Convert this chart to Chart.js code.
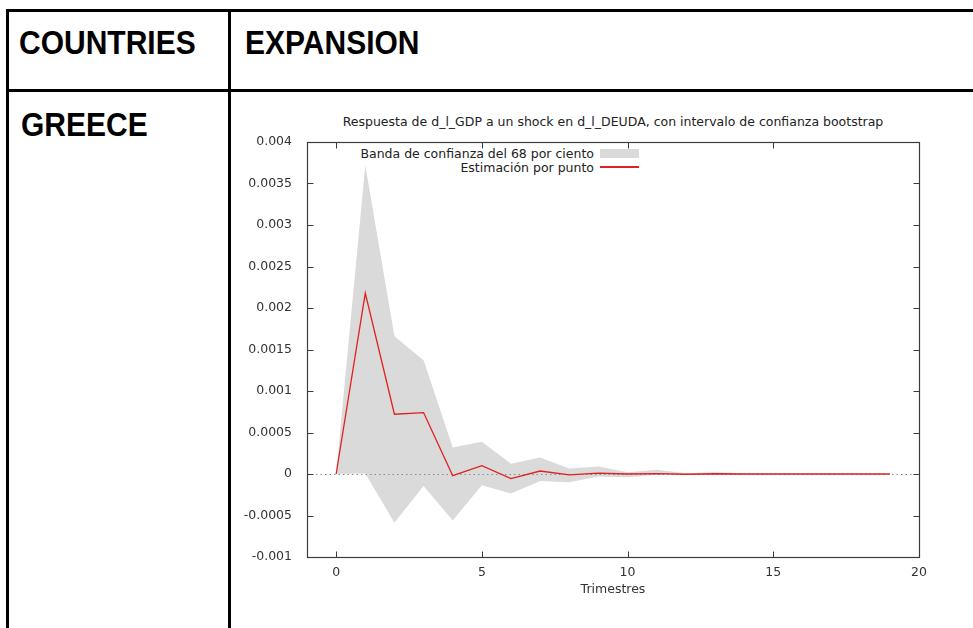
<!DOCTYPE html>
<html>
<head>
<meta charset="utf-8">
<script src="https://cdn.jsdelivr.net/npm/chart.js"></script>
<style>
    html, body { margin: 0; padding: 0; background: #fff; }
    body { width: 973px; height: 628px; position: relative; overflow: hidden; }
    .line { position: absolute; background: #000; }
    .cell { position: absolute; font-family: "Liberation Sans", Arial, sans-serif; font-weight: bold;
            font-size: 30px; line-height: 30px; color: #000; white-space: nowrap;
            transform: scaleY(1.08); transform-origin: 0 100%; }
    .small { position: absolute; font-family: "DejaVu Sans", sans-serif; font-size: 12.5px;
             line-height: 14px; color: #222; white-space: nowrap; }
    #chartBox { position: absolute; left: 235px; top: 95px; width: 738px; height: 533px; }
    #legendLine { position: absolute; left: 600px; top: 166px; width: 39px; height: 0;
                  border-top: 2px solid #e02020; }
</style>
</head>
<body>

<!-- table lines -->
<div class="line" style="left:6px; top:9px; width:967px; height:3px;"></div>
<div class="line" style="left:6px; top:9px; width:3px; height:619px;"></div>
<div class="line" style="left:228px; top:9px; width:3px; height:619px;"></div>
<div class="line" style="left:6px; top:89px; width:967px; height:3px;"></div>

<div class="cell" style="left:19px; top:29px;">COUNTRIES</div>
<div class="cell" style="left:245px; top:29px;">EXPANSION</div>
<div class="cell" style="left:21px; top:111px;">GREECE</div>

<!-- chart title + legend -->
<div class="small" id="chartTitle" style="left:313px; top:115px; width:600px; text-align:center;">Respuesta de d_l_GDP a un shock en d_l_DEUDA, con intervalo de confianza bootstrap</div>
<div class="small" style="left:280px; top:147px; width:314px; text-align:right;">Banda de confianza del 68 por ciento</div>
<div class="small" style="left:280px; top:161px; width:314px; text-align:right;">Estimación por punto</div>
<div style="position:absolute; left:600px; top:149px; width:39px; height:9px; background:#dadada;"></div>
<div id="legendLine"></div>

<div id="chartBox"><canvas id="irfChart"></canvas></div>

<script>
    // -----------------------------
    // data
    // -----------------------------
    const trimestres = [0, 1, 2, 3, 4, 5, 6, 7, 8, 9, 10, 11, 12, 13, 14, 15, 16, 17, 18, 19];
    const estimacion = [0, 0.00218, 0.00072, 0.00074, -0.00002, 0.0001, -0.000055, 0.000036, -0.00001, 0.00001,
                        0, 0.000005, -0.000003, 0.000003, 0, 0, 0, 0, 0, 0];
    const bandaSup = [0, 0.00372, 0.00166, 0.00137, 0.00032, 0.00039, 0.000125, 0.0002, 0.000065, 0.00009,
                      0.00002, 0.00005, 0.00001, 0.00002, 0.00001, 0.00001, 0.000005, 0.000005, 0.000003, 0.000002];
    const bandaInf = [0, 0.000005, -0.000586, -0.000145, -0.00056, -0.000136, -0.000236, -0.000084, -0.0001, -0.00003,
                      -0.00004, -0.00001, -0.00001, -0.000005, -0.000005, -0.000003, -0.000002, -0.000002, -0.000001, -0.000001];
    const yTicksMin = -0.001, yTicksMax = 0.004, yStep = 0.0005;
    const xTicksMin = -1, xTicksMax = 20, xStep = 5;

    const toXY = (vals) => trimestres.map((t, i) => ({ x: t, y: vals[i] }));

    const tickFont = { family: "DejaVu Sans", size: 12.5 };
    const frameColor = "#3c3c3c";

    // gnuplot style: inward ticks, box frame, dotted zero axis
    const gnuplotFrame = {
        id: "gnuplotFrame",
        beforeDatasetDraw: function (chart, args) {
            if (args.index !== 2) return;
            const ctx = chart.ctx;
            const area = chart.chartArea;
            const y0 = Math.round(chart.scales.y.getPixelForValue(0)) + 0.5;
            ctx.save();
            ctx.strokeStyle = "#8a8a8a";
            ctx.lineWidth = 1;
            ctx.setLineDash([1.5, 3]);
            ctx.beginPath();
            ctx.moveTo(area.left, y0);
            ctx.lineTo(area.right, y0);
            ctx.stroke();
            ctx.restore();
        },
        afterDraw: function (chart) {
            const ctx = chart.ctx;
            const a = chart.chartArea;
            const L = Math.round(a.left) + 0.5, R = Math.round(a.right) + 0.5;
            const T = Math.round(a.top) + 0.5, B = Math.round(a.bottom) + 0.5;
            ctx.save();
            ctx.strokeStyle = frameColor;
            ctx.lineWidth = 1;
            ctx.beginPath();
            chart.scales.x.ticks.forEach((t) => {
                const px = Math.round(chart.scales.x.getPixelForValue(t.value)) + 0.5;
                ctx.moveTo(px, B); ctx.lineTo(px, B - 6);
                ctx.moveTo(px, T); ctx.lineTo(px, T + 6);
            });
            chart.scales.y.ticks.forEach((t) => {
                const py = Math.round(chart.scales.y.getPixelForValue(t.value)) + 0.5;
                ctx.moveTo(L, py); ctx.lineTo(L + 6, py);
                ctx.moveTo(R, py); ctx.lineTo(R - 6, py);
            });
            ctx.stroke();
            ctx.lineWidth = 1.2;
            ctx.strokeRect(L, T, R - L, B - T);
            ctx.restore();
        }
    };

    new Chart(document.getElementById("irfChart"), {
        type: "line",
        data: {
            datasets: [{
                label: "Banda de confianza del 68 por ciento",
                data: toXY(bandaSup),
                borderWidth: 0,
                borderColor: "rgba(0,0,0,0)",
                backgroundColor: "#dadada",
                pointRadius: 0,
                fill: "+1",
                order: 2
            }, {
                label: "inf",
                data: toXY(bandaInf),
                borderWidth: 0,
                borderColor: "rgba(0,0,0,0)",
                pointRadius: 0,
                fill: false,
                order: 2
            }, {
                label: "Estimación por punto",
                data: toXY(estimacion),
                borderColor: "#e02020",
                borderWidth: 1.3,
                pointRadius: 0,
                fill: false,
                order: 0
            }]
        },
        options: {
            responsive: true,
            maintainAspectRatio: false,
            animation: false,
            layout: { padding: { left: 0, top: 47, right: 54, bottom: 0 } },
            plugins: {
                legend: { display: false },
                title: { display: false },
                tooltip: { enabled: false }
            },
            scales: {
                x: {
                    type: "linear",
                    min: xTicksMin,
                    max: xTicksMax,
                    ticks: { stepSize: xStep, font: tickFont, color: "#333", padding: 0, maxRotation: 0 },
                    afterBuildTicks: function (scale) {
                        scale.ticks = scale.ticks.filter((t) => t.value >= 0);
                    },
                    afterFit: function (scale) { scale.height = 71; },
                    grid: { display: false },
                    border: { display: false },
                    title: {
                        display: true,
                        text: "Trimestres",
                        font: tickFont,
                        color: "#333",
                        padding: { top: 0, bottom: 31 }
                    }
                },
                y: {
                    min: yTicksMin,
                    max: yTicksMax,
                    ticks: {
                        stepSize: yStep,
                        font: tickFont,
                        color: "#333",
                        padding: 7,
                        callback: function (v) { return parseFloat(v.toFixed(4)).toString(); }
                    },
                    afterFit: function (scale) { scale.width = 72; },
                    grid: { display: false },
                    border: { display: false }
                }
            }
        },
        plugins: [gnuplotFrame]
    });
</script>
</body>
</html>
